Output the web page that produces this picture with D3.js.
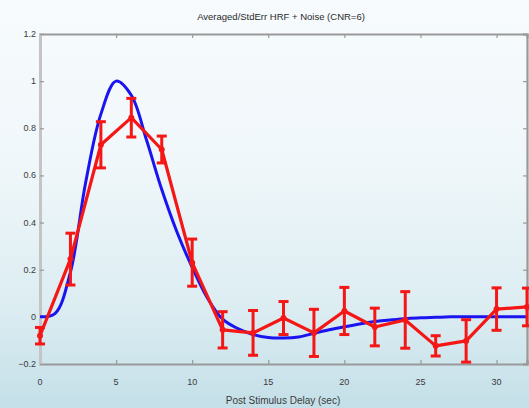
<!DOCTYPE html>
<html>
<head>
<meta charset="utf-8">
<script src="https://cdn.jsdelivr.net/npm/d3@7/dist/d3.min.js"></script>
<style>
  html, body { margin: 0; padding: 0; overflow: hidden; }
  svg { display: block; }
  text { font-family: "Liberation Sans", Arial, sans-serif; }
</style>
</head>
<body>
<svg id="chart" width="529" height="408"></svg>
<script>
// Canonical HRF (sampled every second) and averaged noisy response with standard error
const hrfTime = [0,1,2,3,4,5,6,7,8,9,10,11,12,13,14,15,16,17,18,19,20,21,22,23,24,25,26,27,28,29,30,31,32];
const hrfValue = [0,0.015,0.19,0.57,0.86,1.0,0.94,0.75,0.54,0.36,0.21,0.08,-0.01,-0.05,-0.075,-0.088,-0.09,-0.085,-0.07,-0.055,-0.042,-0.03,-0.02,-0.013,-0.008,-0.004,-0.002,0,0,0,0,0,0];

const avgTime = [0,2,4,6,8,10,12,14,16,18,20,22,24,26,28,30,32];
const avgMean = [-0.08,0.245,0.73,0.845,0.71,0.23,-0.055,-0.068,-0.005,-0.068,0.025,-0.043,-0.013,-0.123,-0.102,0.033,0.042];
const avgErr  = [0.035,0.11,0.098,0.082,0.057,0.1,0.077,0.095,0.07,0.1,0.1,0.08,0.12,0.043,0.09,0.09,0.08];

const xTicks = [0,5,10,15,20,25,30];
const yTicks = [-0.2,0,0.2,0.4,0.6,0.8,1,1.2];

const titleText = "Averaged/StdErr HRF + Noise (CNR=6)";
const xLabelText = "Post Stimulus Delay (sec)";

const W = 529, H = 408;
const svg = d3.select("#chart");

// soft white-to-pale-blue backdrop
const defs = svg.append("defs");
const grad = defs.append("linearGradient").attr("id", "bg").attr("x1", 0).attr("y1", 0).attr("x2", 0).attr("y2", 1);
grad.append("stop").attr("offset", "0%").attr("stop-color", "#f7fbfd");
grad.append("stop").attr("offset", "40%").attr("stop-color", "#f0f7fa");
grad.append("stop").attr("offset", "75%").attr("stop-color", "#dcedf2");
grad.append("stop").attr("offset", "100%").attr("stop-color", "#c4dfe8");
svg.append("rect").attr("width", W).attr("height", H).attr("fill", "url(#bg)");

const x = d3.scaleLinear().domain([0, 32]).range([40, 527]);
const y = d3.scaleLinear().domain([-0.2, 1.2]).range([364, 34]);

// axes box
const axisColor = "#999";
const fmt = d => (d === 0 ? "0" : d3.format("~g")(d));

const gTop = svg.append("g").attr("transform", `translate(0,${y(1.2)})`)
  .call(d3.axisBottom(x).tickValues(xTicks).tickSize(4).tickFormat(""));
const gBottom = svg.append("g").attr("transform", `translate(0,${y(-0.2)})`)
  .call(d3.axisTop(x).tickValues(xTicks).tickSize(4).tickFormat(""));
const gLeft = svg.append("g").attr("transform", `translate(${x(0)},0)`)
  .call(d3.axisRight(y).tickValues(yTicks).tickSize(4).tickFormat(""));
const gRight = svg.append("g").attr("transform", `translate(${x(32)},0)`)
  .call(d3.axisLeft(y).tickValues(yTicks).tickSize(4).tickFormat(""));

[gTop, gBottom, gLeft, gRight].forEach(g => {
  g.select(".domain").attr("stroke", axisColor).attr("stroke-width", 2.2);
  g.selectAll(".tick line").attr("stroke", axisColor).attr("stroke-width", 1.2);
});
gLeft.select(".domain").attr("stroke", "#c4c4c4").attr("stroke-width", 3);

// tick labels
svg.append("g").selectAll("text").data(xTicks).join("text")
  .attr("x", d => x(d)).attr("y", 385)
  .attr("text-anchor", "middle").attr("font-size", 9).attr("fill", "#3a3a3a")
  .text(d => fmt(d));
svg.append("g").selectAll("text").data(yTicks).join("text")
  .attr("x", 36).attr("y", d => y(d) + 3)
  .attr("text-anchor", "end").attr("font-size", 9).attr("fill", "#3a3a3a")
  .text(d => fmt(d));

// title and axis label
svg.append("text").attr("x", 281).attr("y", 20).attr("text-anchor", "middle")
  .attr("font-size", 9.5).attr("fill", "#2a2a2a").text(titleText);
svg.append("text").attr("x", 283).attr("y", 404).attr("text-anchor", "middle")
  .attr("font-size", 10).attr("fill", "#3a3a3a").text(xLabelText);

const plot = svg.append("g");

// canonical HRF
const hrf = hrfTime.map((t, i) => ({ t, v: hrfValue[i] }));
plot.append("path").datum(hrf)
  .attr("fill", "none").attr("stroke", "#1a14f0").attr("stroke-width", 3)
  .attr("d", d3.line().x(d => x(d.t)).y(d => y(d.v)).curve(d3.curveCatmullRom.alpha(0.5)));

// averaged response with error bars
const avg = avgTime.map((t, i) => ({ t, m: avgMean[i], e: avgErr[i] }));
const red = "#f51616";
plot.append("path").datum(avg)
  .attr("fill", "none").attr("stroke", red).attr("stroke-width", 3.2).attr("stroke-linejoin", "round")
  .attr("d", d3.line().x(d => x(d.t)).y(d => y(d.m)));

const bars = plot.append("g").selectAll("g").data(avg).join("g")
  .attr("stroke", red).attr("stroke-width", 3);
bars.append("line")
  .attr("x1", d => x(d.t)).attr("x2", d => x(d.t))
  .attr("y1", d => y(d.m - d.e)).attr("y2", d => y(d.m + d.e));
bars.append("line")
  .attr("x1", d => x(d.t) - 5).attr("x2", d => x(d.t) + 5)
  .attr("y1", d => y(d.m + d.e)).attr("y2", d => y(d.m + d.e));
bars.append("line")
  .attr("x1", d => x(d.t) - 5).attr("x2", d => x(d.t) + 5)
  .attr("y1", d => y(d.m - d.e)).attr("y2", d => y(d.m - d.e));
plot.append("g").selectAll("circle").data(avg).join("circle")
  .attr("cx", d => x(d.t)).attr("cy", d => y(d.m)).attr("r", 3).attr("fill", red);
</script>
</body>
</html>
